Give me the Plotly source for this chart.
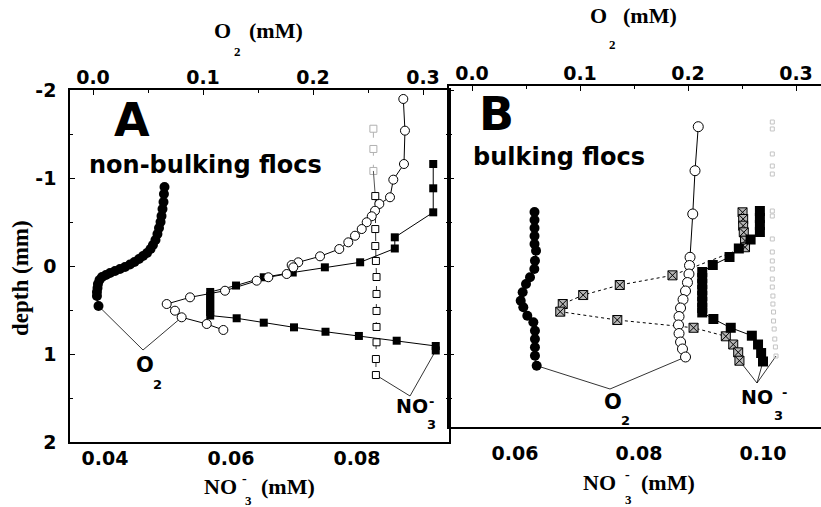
import plotly.graph_objects as go

# ---------------- data ----------------
# Panel A: non-bulking flocs
a_o2_fill_depth = [-0.898, -0.818, -0.727, -0.648, -0.568, -0.500, -0.432, -0.364, -0.295, -0.239,
                   -0.193, -0.148, -0.114, -0.080, -0.045, -0.017, 0.011, 0.034, 0.057, 0.080,
                   0.102, 0.125, 0.159, 0.205, 0.250, 0.295, 0.341, 0.455]
a_o2_fill_conc = [0.0650, 0.0645, 0.0641, 0.0632, 0.0623, 0.0614, 0.0600, 0.0586, 0.0568, 0.0545,
                  0.0523, 0.0491, 0.0455, 0.0418, 0.0377, 0.0336, 0.0291, 0.0245, 0.0200, 0.0155,
                  0.0118, 0.0082, 0.0059, 0.0045, 0.0041, 0.0036, 0.0036, 0.0050]

a_o2_open_depth = [-1.898, -1.538, -1.159, -0.981, -0.781, -0.705, -0.628, -0.565, -0.497, -0.420,
                   -0.344, -0.269, -0.193, -0.110, -0.042, -0.011, 0.015, 0.091, 0.128, 0.167,
                   0.281, 0.356, 0.432, 0.508, 0.583, 0.659, 0.727]
a_o2_open_conc = [0.2821, 0.2836, 0.2827, 0.2730, 0.2700, 0.2603, 0.2564, 0.2534, 0.2488, 0.2443,
                  0.2382, 0.2321, 0.2239, 0.2064, 0.1866, 0.1806, 0.1821, 0.1761, 0.1594, 0.1488,
                  0.1200, 0.0882, 0.0670, 0.0745, 0.0806, 0.1034, 0.1185]

a_no3_open_depth = [-0.795, -0.420, -0.227, -0.057, 0.125, 0.318, 0.511, 0.693, 0.867, 1.057, 1.239]
a_no3_open_conc = [0.0829, 0.0829, 0.0829, 0.0830, 0.0831, 0.0831, 0.0831, 0.0831, 0.0831, 0.0830, 0.0830]

a_no3_faint_depth = [-1.56, -1.33, -1.08]
a_no3_faint_conc = [0.0826, 0.0826, 0.0826]

a_no3_fill_depth = [-1.159, -0.883, -0.610, -0.326, -0.199, -0.042, 0.015, 0.074, 0.128, 0.222,
                    0.295, 0.341, 0.386, 0.432, 0.477, 0.523, 0.563, 0.594, 0.644, 0.697,
                    0.747, 0.795, 0.849, 0.909, 0.960]
a_no3_fill_conc = [0.0921, 0.0921, 0.0921, 0.0860, 0.0860, 0.0805, 0.0749, 0.0698, 0.0652, 0.0608,
                   0.0567, 0.0567, 0.0567, 0.0567, 0.0567, 0.0567, 0.0567, 0.0609, 0.0652, 0.0700,
                   0.0750, 0.0803, 0.0863, 0.0925, 0.0925]

# Panel B: bulking flocs
b_o2_fill_depth = [-0.614, -0.523, -0.432, -0.341, -0.250, -0.174, -0.060, 0.034, 0.128, 0.205,
                   0.299, 0.394, 0.469, 0.565, 0.640, 0.735, 0.830, 0.924, 1.019, 1.133]
b_o2_fill_conc = [0.0579, 0.0579, 0.0579, 0.0579, 0.0579, 0.0593, 0.0583, 0.0577, 0.0537, 0.0500,
                  0.0469, 0.0451, 0.0475, 0.0512, 0.0568, 0.0583, 0.0583, 0.0583, 0.0583, 0.0599]

b_o2_open_depth = [-1.583, -1.083, -0.591, -0.099, -0.006, 0.091, 0.188, 0.284, 0.381, 0.477,
                   0.574, 0.670, 0.767, 0.864, 0.943, 1.034]
b_o2_open_conc = [0.2095, 0.2065, 0.2044, 0.2019, 0.2014, 0.2009, 0.1995, 0.1977, 0.1954, 0.1931,
                  0.1917, 0.1912, 0.1917, 0.1931, 0.1949, 0.1977]

b_no3_cross_depth = [-0.610, -0.534, -0.458, -0.383, -0.288, -0.213, 0.106, 0.216, 0.330, 0.432,
                     0.519, 0.614, 0.702, 0.799, 0.892, 0.981, 1.076]
b_no3_cross_conc = [0.0967, 0.0968, 0.0968, 0.0969, 0.0971, 0.0971, 0.0854, 0.0769, 0.0710, 0.0677,
                    0.0673, 0.0765, 0.0888, 0.0940, 0.0952, 0.0960, 0.0962]

b_no3_fill_depth = [-0.625, -0.545, -0.466, -0.386, -0.301, -0.199, -0.102, -0.011, 0.068, 0.136,
                    0.205, 0.273, 0.341, 0.409, 0.477, 0.528, 0.602, 0.702, 0.792, 0.892,
                    0.989, 1.085]
b_no3_fill_conc = [0.0995, 0.0995, 0.0995, 0.0995, 0.0980, 0.0961, 0.0946, 0.0919, 0.0902, 0.0902,
                   0.0902, 0.0902, 0.0902, 0.0902, 0.0902, 0.0902, 0.0920, 0.0948, 0.0982, 0.0992,
                   0.0997, 0.1000]

b_no3_faint_depth = [-1.636, -1.557, -1.273, -1.136, -1.045, -0.625, -0.568, -0.307, -0.159, -0.057,
                     0.034, 0.148, 0.239, 0.341, 0.432, 0.523, 0.625, 0.716, 0.830, 0.920, 1.023]
b_no3_faint_conc = [0.1015, 0.1015, 0.1015, 0.1015, 0.1015, 0.1015, 0.1015, 0.1015, 0.1015, 0.1015,
                    0.1015, 0.1015, 0.1015, 0.1016, 0.1016, 0.1017, 0.1017, 0.1018, 0.1019, 0.1020, 0.1021]

# tick labels
o2_tickvals = [0.0, 0.1, 0.2, 0.3]
o2_ticktext = ["0.0", "0.1", "0.2", "0.3"]
a_no3_tickvals = [0.04, 0.06, 0.08]
a_no3_ticktext = ["0.04", "0.06", "0.08"]
b_no3_tickvals = [0.06, 0.08, 0.10]
b_no3_ticktext = ["0.06", "0.08", "0.10"]
depth_tickvals = [-2, -1, 0, 1, 2]
depth_ticktext = ["-2", "-1", "0", "1", "2"]

# ---------------- layout geometry ----------------
W, H = 821, 507
ML, MR, MT, MB = 70, 0, 86, 65
PW, PH = W - ML - MR, H - MT - MB
SPLIT = 449


def fx(px):
    return (px - ML) / PW


def fy(py):
    return (H - MB - py) / PH


# pixel -> axis value calibrations
def a_no3(px):
    return 0.04 + (px - 105) / 6300


def a_o2(px):
    return (px - 93) / 1100


def b_no3(px):
    return 0.06 + (px - 515) / 6200


def b_o2(px):
    return (px - 472) / 1080


def dep(py):
    return (py - 266) / 88


dA = fx(SPLIT)
SANS = "DejaVu Sans"
SERIF = "Liberation Serif"
LINE = dict(color="black", width=1)

fig = go.Figure()

# ---- Panel A traces ----
fig.add_trace(go.Scatter(x=a_no3_faint_conc, y=a_no3_faint_depth, xaxis="x", yaxis="y",
                         mode="lines+markers", line=dict(color="#b0b0b0", width=1, dash="dash"),
                         marker=dict(symbol="square", size=7, color="white",
                                     line=dict(color="#b0b0b0", width=1))))
fig.add_trace(go.Scatter(x=[a_no3_faint_conc[-1], a_no3_open_conc[0]],
                         y=[a_no3_faint_depth[-1], a_no3_open_depth[0]], xaxis="x", yaxis="y",
                         mode="lines", line=dict(color="#555555", width=1)))
fig.add_trace(go.Scatter(x=a_no3_open_conc, y=a_no3_open_depth, xaxis="x", yaxis="y",
                         mode="lines+markers", line=dict(color="#333333", width=1, dash="dash"),
                         marker=dict(symbol="square", size=7, color="white",
                                     line=dict(color="black", width=1))))
fig.add_trace(go.Scatter(x=a_no3_fill_conc, y=a_no3_fill_depth, xaxis="x", yaxis="y",
                         mode="lines+markers", line=LINE,
                         marker=dict(symbol="square", size=8, color="black")))
fig.add_trace(go.Scatter(x=a_o2_open_conc, y=a_o2_open_depth, xaxis="x3", yaxis="y",
                         mode="lines+markers", line=LINE,
                         marker=dict(symbol="circle", size=9, color="white",
                                     line=dict(color="black", width=1))))
fig.add_trace(go.Scatter(x=a_o2_fill_conc, y=a_o2_fill_depth, xaxis="x3", yaxis="y",
                         mode="lines+markers", line=LINE,
                         marker=dict(symbol="circle", size=10, color="black")))

# ---- Panel B traces ----
fig.add_trace(go.Scatter(x=b_no3_faint_conc, y=b_no3_faint_depth, xaxis="x2", yaxis="y2",
                         mode="markers",
                         marker=dict(symbol="square-open", size=4, color="#c4c4c4",
                                     line=dict(width=1))))
fig.add_trace(go.Scatter(x=b_no3_cross_conc, y=b_no3_cross_depth, xaxis="x2", yaxis="y2",
                         mode="lines+markers", line=dict(color="black", width=1, dash="dot"),
                         marker=dict(symbol="square-x", size=9, color="#b5b5b5",
                                     line=dict(color="black", width=1))))
fig.add_trace(go.Scatter(x=b_o2_open_conc, y=b_o2_open_depth, xaxis="x4", yaxis="y2",
                         mode="lines+markers", line=LINE,
                         marker=dict(symbol="circle", size=10, color="white",
                                     line=dict(color="black", width=1))))
fig.add_trace(go.Scatter(x=b_no3_fill_conc, y=b_no3_fill_depth, xaxis="x2", yaxis="y2",
                         mode="lines+markers", line=LINE,
                         marker=dict(symbol="square", size=10, color="black")))
fig.add_trace(go.Scatter(x=b_o2_fill_conc, y=b_o2_fill_depth, xaxis="x4", yaxis="y2",
                         mode="lines+markers", line=LINE,
                         marker=dict(symbol="circle", size=10, color="black")))

# ---- leader lines from labels to profiles ----
shapes = []


def leader(xref, yref, x0, y0, x1, y1):
    shapes.append(dict(type="line", xref=xref, yref=yref, x0=x0, y0=y0, x1=x1, y1=y1,
                       line=dict(color="black", width=0.8), layer="below"))


leader("x3", "y", a_o2(143), dep(350), a_o2_fill_conc[-1], a_o2_fill_depth[-1])
leader("x3", "y", a_o2(143), dep(350), a_o2_open_conc[24], a_o2_open_depth[24])
leader("x", "y", a_no3(410), dep(396), a_no3_open_conc[-1], a_no3_open_depth[-1])
leader("x", "y", a_no3(410), dep(396), a_no3_fill_conc[-1], a_no3_fill_depth[-1])
leader("x4", "y2", b_o2(610), dep(389), b_o2_fill_conc[-1], b_o2_fill_depth[-1])
leader("x4", "y2", b_o2(610), dep(389), b_o2_open_conc[-1], b_o2_open_depth[-1])
leader("x2", "y2", b_no3(757), dep(383), b_no3_cross_conc[-1], b_no3_cross_depth[-1])
leader("x2", "y2", b_no3(757), dep(383), b_no3_fill_conc[-1], b_no3_fill_depth[-1])
leader("x2", "y2", b_no3(757), dep(383), b_no3_faint_conc[-1], b_no3_faint_depth[-1])

# ---- text ----
annotations = []


def txt(px, py, text, size, family=SANS, angle=0):
    annotations.append(dict(x=fx(px), y=fy(py), xref="paper", yref="paper", text="<b>%s</b>" % text,
                            showarrow=False, xanchor="center", yanchor="middle", textangle=angle,
                            font=dict(family=family, size=size, color="black")))


txt(132, 120, "A", 46)
txt(496, 114, "B", 46)
txt(205, 165, "non-bulking flocs", 24)
txt(559, 157, "bulking flocs", 24)

# axis titles
txt(222, 31, "O", 22, SERIF)
txt(237, 51, "2", 13, SERIF)
txt(276, 31, "(mM)", 22, SERIF)
txt(598, 15, "O", 22, SERIF)
txt(612, 44, "2", 13, SERIF)
txt(650, 15, "(mM)", 22, SERIF)
txt(220, 486, "NO", 22, SERIF)
txt(244, 478, "-", 14, SERIF)
txt(248, 501, "3", 13, SERIF)
txt(288, 486, "(mM)", 22, SERIF)
txt(599, 482, "NO", 22, SERIF)
txt(627, 474, "-", 14, SERIF)
txt(628, 499, "3", 13, SERIF)
txt(668, 482, "(mM)", 22, SERIF)
txt(20, 278, "depth (mm)", 23, SERIF, angle=-90)

# in-plot labels
txt(145, 365, "O", 21)
txt(157, 384, "2", 13)
txt(412, 406, "NO", 19)
txt(431, 401, "-", 13)
txt(431, 424, "3", 13)
txt(613, 402, "O", 21)
txt(625, 420, "2", 13)
txt(757, 397, "NO", 19)
txt(784, 392, "-", 13)
txt(778, 415, "3", 13)

AXL = dict(showline=True, linecolor="black", linewidth=1.5, showgrid=False, zeroline=False,
           automargin=False)
TF = dict(family=SANS, size=19, color="black")


def bold(lst):
    return ["<b>%s</b>" % t for t in lst]


fig.update_layout(
    width=W, height=H, margin=dict(l=ML, r=MR, t=MT, b=MB, autoexpand=False),
    paper_bgcolor="white", plot_bgcolor="white", showlegend=False,
    xaxis=dict(domain=[0, dA], range=[a_no3(ML), a_no3(SPLIT)], anchor="y",
               tickvals=a_no3_tickvals, ticktext=bold(a_no3_ticktext), tickfont=TF,
               ticks="", ticklabelstandoff=-2, **AXL),
    xaxis2=dict(domain=[dA, 1], range=[b_no3(SPLIT), b_no3(W)], anchor="y2",
                tickvals=b_no3_tickvals, ticktext=bold(b_no3_ticktext), tickfont=TF,
                ticks="", ticklabelstandoff=8, **AXL),
    xaxis3=dict(overlaying="x", side="top", anchor="y", range=[a_o2(ML), a_o2(SPLIT)],
                tickvals=o2_tickvals, ticktext=bold(o2_ticktext), tickfont=TF,
                ticks="inside", ticklen=5, tickcolor="black", ticklabelstandoff=-3,
                minor=dict(ticks="inside", ticklen=3, dtick=0.05, tickcolor="black"), **AXL),
    xaxis4=dict(overlaying="x2", side="top", anchor="y2", range=[b_o2(SPLIT), b_o2(W)],
                tickvals=o2_tickvals, ticktext=bold(o2_ticktext), tickfont=TF,
                ticks="inside", ticklen=5, tickcolor="black", ticklabelstandoff=-3,
                minor=dict(ticks="inside", ticklen=3, dtick=0.05, tickcolor="black"), **AXL),
    yaxis=dict(domain=[0, fy(90)], range=[2, -2], anchor="x",
               tickvals=depth_tickvals, ticktext=bold(depth_ticktext), tickfont=TF,
               ticks="inside", ticklen=5, tickcolor="black", mirror="ticks", ticklabelstandoff=8,
               minor=dict(ticks="inside", ticklen=3, dtick=0.5, tickcolor="black"), **AXL),
    yaxis2=dict(domain=[fy(427), 1], range=[dep(427), dep(86)], anchor="x2",
                tickvals=depth_tickvals, showticklabels=False,
                ticks="inside", ticklen=5, tickcolor="black",
                minor=dict(ticks="inside", ticklen=3, dtick=0.5, tickcolor="black"), **AXL),
    shapes=shapes, annotations=annotations,
)

fig.write_html("out.html", config={"displayModeBar": False},
               post_script="document.body.style.margin='0';document.body.style.padding='0';")
